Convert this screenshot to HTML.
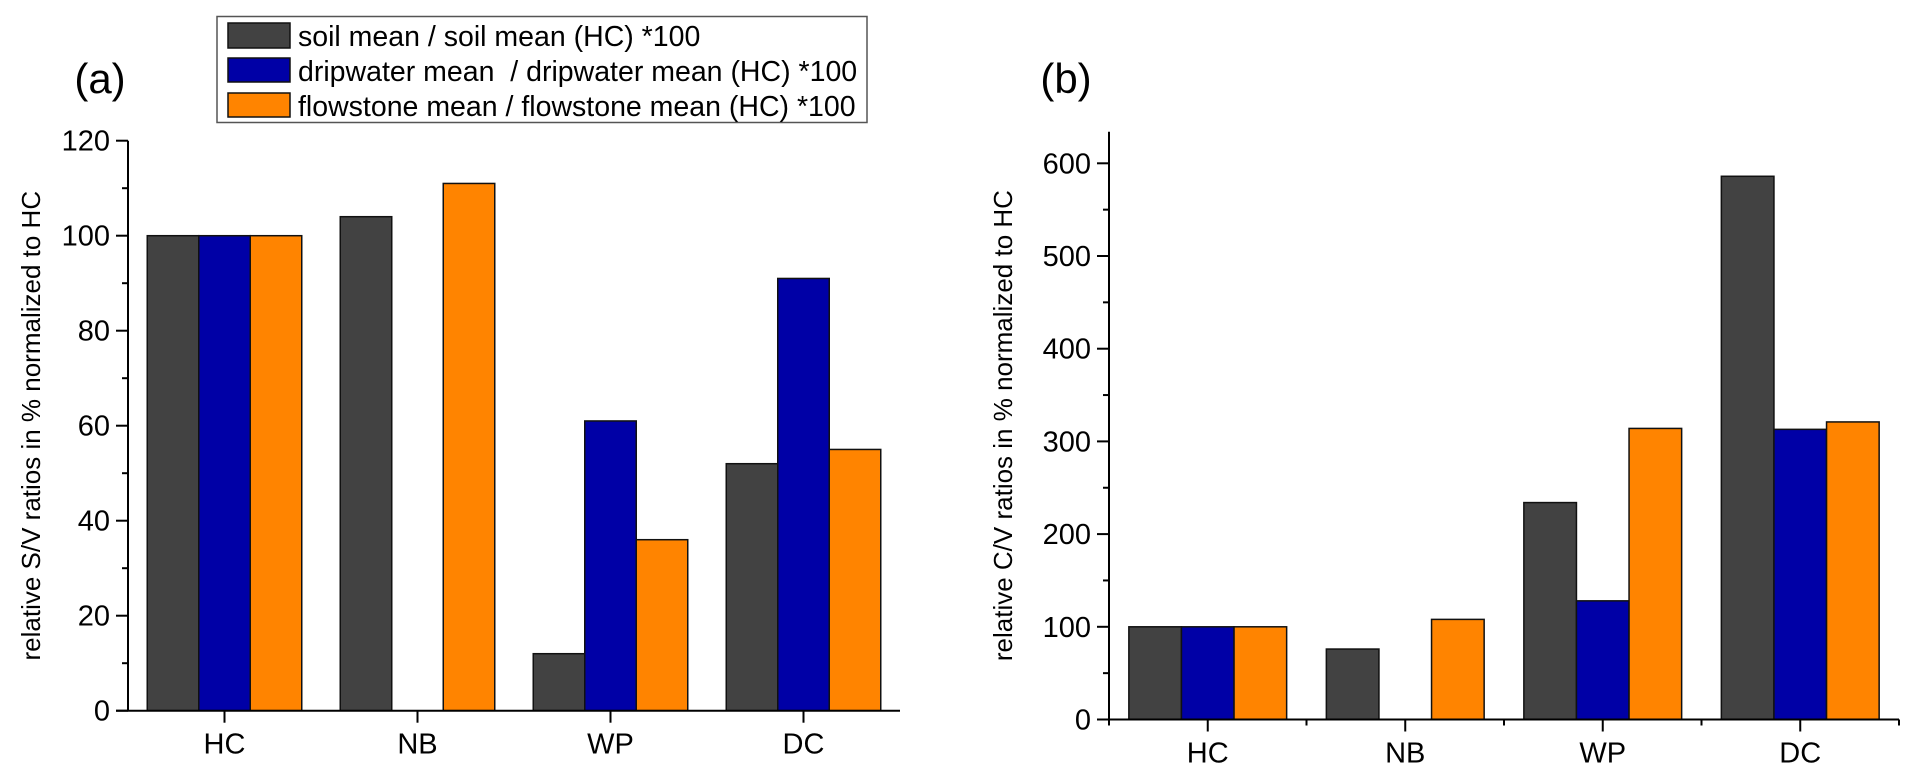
<!DOCTYPE html>
<html><head><meta charset="utf-8"><style>
html,body{margin:0;padding:0;background:#fff;}
svg{display:block;font-family:"Liberation Sans",Arial,sans-serif;}
</style></head><body>
<svg id="fig" width="1917" height="778" viewBox="0 0 1917 778" xmlns="http://www.w3.org/2000/svg">
<rect width="1917" height="778" fill="#fff"/>
<g id="legend">
<rect x="217" y="16.5" width="650" height="106" fill="#fff" stroke="#555" stroke-width="1.5"/>
<rect x="228" y="23" width="62" height="25" fill="#424242" stroke="#111" stroke-width="1.5"/>
<rect x="228" y="58" width="62" height="24" fill="#0000A6" stroke="#111" stroke-width="1.5"/>
<rect x="228" y="93" width="62" height="24" fill="#FF8400" stroke="#111" stroke-width="1.5"/>
<text x="298" y="46" font-size="28.5">soil mean / soil mean (HC) *100</text>
<text x="298" y="81" font-size="28.5" xml:space="preserve">dripwater mean  / dripwater mean (HC) *100</text>
<text x="298" y="116" font-size="28.5">flowstone mean / flowstone mean (HC) *100</text>
</g>
<text x="100" y="93" font-size="42" text-anchor="middle">(a)</text>
<text x="1066" y="93" font-size="42" text-anchor="middle">(b)</text>
<g id="chartA"></g>
<g id="chartB"></g>
</svg>
<script>
const categories = ["HC", "NB", "WP", "DC"];
const seriesNames = ["soil", "dripwater", "flowstone"];
const seriesColors = ["#424242", "#0000A6", "#FF8400"];
const soilA = [100, 104, 12, 52];
const dripA = [100, null, 61, 91];
const flowA = [100, 111, 36, 55];
const ticksA = [0, 20, 40, 60, 80, 100, 120];
const soilB = [100, 76, 234, 586];
const dripB = [100, null, 128, 313];
const flowB = [100, 108, 314, 321];
const ticksB = [0, 100, 200, 300, 400, 500, 600];

const NS = "http://www.w3.org/2000/svg";
function mk(tag, attrs, parent){
  const e = document.createElementNS(NS, tag);
  for (const k in attrs) e.setAttribute(k, attrs[k]);
  parent.appendChild(e);
  return e;
}
function drawChart(g, cfg, series, ticks, yLabel, prefix){
  const {x0, x1, y0, yTopVal, yTopPix, axisTop} = cfg;
  const yScale = v => y0 - (v / yTopVal) * (y0 - yTopPix);
  const gw = (x1 - x0) / categories.length;
  const bw = cfg.bw;
  const off = (gw - bw * series.length) / 2;
  categories.forEach((c, i) => {
    series.forEach((arr, s) => {
      const v = arr[i];
      if (v === null || v === undefined) return;
      const bx = x0 + gw * i + off + bw * s;
      const by = yScale(v);
      const r = mk("rect", {x: bx, y: by, width: bw, height: y0 - by, fill: seriesColors[s], stroke: "#111", "stroke-width": 1.5}, g);
      
      
    });
    const cx = x0 + gw * i + gw / 2;
    const t = mk("line", {x1: cx, x2: cx, y1: y0, y2: y0 + 12, stroke: "#000", "stroke-width": 2}, g);
    
    
    const lb = mk("text", {x: cx, y: y0 + 43, "font-size": 29, "text-anchor": "middle"}, g);
    lb.textContent = c;
    
    
    if (cfg.minorX) {
      for (const bxm of [x0 + gw * i, x0 + gw * (i + 1)]) {
        const m = mk("line", {x1: bxm, x2: bxm, y1: y0, y2: y0 + 6, stroke: "#000", "stroke-width": 2}, g);
        
        
      }
    }
  });
  const ya = mk("line", {x1: x0, x2: x0, y1: axisTop, y2: y0 + (cfg.minorX ? 6 : 0), stroke: "#000", "stroke-width": 2}, g);
  
  
  const xa = mk("line", {x1: x0 - 12, x2: x1, y1: y0, y2: y0, stroke: "#000", "stroke-width": 2}, g);
  
  
  const step = ticks[1] - ticks[0];
  ticks.forEach((v, k) => {
    const y = yScale(v);
    const tk = mk("line", {x1: x0 - 12, x2: x0, y1: y, y2: y, stroke: "#000", "stroke-width": 2}, g);
    
    
    const tl = mk("text", {x: x0 - 18, y: y + 10, "font-size": 29, "text-anchor": "end"}, g);
    tl.textContent = v;
    
    
    if (k < ticks.length - 1) {
      const ym = yScale(v + step / 2);
      const mt = mk("line", {x1: x0 - 6, x2: x0, y1: ym, y2: ym, stroke: "#000", "stroke-width": 2}, g);
      
      
    }
  });
  const cy = (axisTop + y0) / 2;
  const yl = mk("text", {x: cfg.labelX, y: cy, "font-size": 26, "text-anchor": "middle", transform: `rotate(-90 ${cfg.labelX} ${cy})`}, g);
  yl.setAttribute("xml:space", "preserve");
  yl.textContent = yLabel;
  
  
}
drawChart(document.getElementById("chartA"),
  {x0: 128, x1: 900, y0: 710.7, yTopVal: 120, yTopPix: 140.7, axisTop: 140.7, bw: 51.5, minorX: false, labelX: 40},
  [soilA, dripA, flowA], ticksA, "relative S/V ratios  in % normalized to HC", "a");
drawChart(document.getElementById("chartB"),
  {x0: 1109, x1: 1899, y0: 719.5, yTopVal: 600, yTopPix: 163.3, axisTop: 131.7, bw: 52.6, minorX: true, labelX: 1012},
  [soilB, dripB, flowB], ticksB, "relative C/V ratios  in % normalized to HC", "b");
</script>
</body></html>
